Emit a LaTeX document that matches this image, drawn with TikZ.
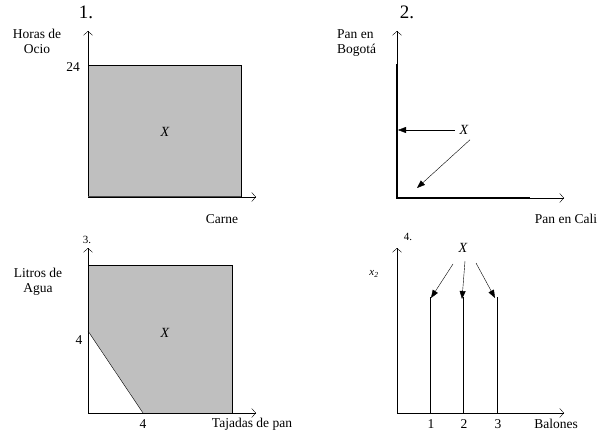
\documentclass[tikz,border=0pt]{standalone}
\usepackage{fontspec}
\setmainfont{Liberation Serif}
\usetikzlibrary{arrows.meta, positioning}

\tikzset{
  axis/.style={thin, -{Straight Barb[length=4pt,width=9pt]}},
  pointer/.style={thin, -{Triangle[length=8pt,width=6pt]}},
  lbl/.style={font=\fontsize{13.5}{15}\selectfont, inner sep=0pt, align=center},
  xlbl/.style={lbl, font=\itshape\fontsize{14}{15}\selectfont},
  bignum/.style={font=\fontsize{19}{19}\selectfont, inner sep=0pt},
  smallnum/.style={font=\fontsize{11}{11}\selectfont, inner sep=0pt},
  region/.style={fill=black!25, draw=black, thin}
}

\begin{document}
\begin{tikzpicture}[x=1pt, y=-1pt]
        \useasboundingbox (0,0) rectangle (600,436);

        % panel 1
        \coordinate (o1) at (88,197);
        \coordinate (y1) at (88,31);
        \coordinate (x1) at (256,197);
        \draw[region] (88,65) rectangle (241,197);
        \draw[axis] (o1) -- (y1);
        \draw[axis] (o1) -- (x1);
        \draw[black!70, line width=1pt] (88,196) -- (241,196);
        \node[bignum] (n1) at (86,12) {1.};
        \node[lbl] (ocio) at (37,41) {Horas de\\Ocio};
        \node[lbl] (t24) at (73,67) {24};
        \node[xlbl] (x1lbl) at (165,132) {X};
        \node[lbl] (carne) at (222,219) {Carne};

        % panel 2
        \coordinate (o2) at (397,198);
        \coordinate (y2) at (397,31);
        \coordinate (x2) at (564,198);
        \draw[axis] (o2) -- (y2);
        \draw[axis] (o2) -- (x2);
        \draw[line width=2.5pt] (397,64) -- (397,198) -- (530,198);
        \node[bignum] (n2) at (407,12) {2.};
        \node[lbl, align=left, anchor=west] (bogota) at (337,43) {Pan en\\Bogotá};
        \node[xlbl] (x2lbl) at (464,130) {X};
        \coordinate (hit1) at (398,130);
        \coordinate (hit2) at (417,188);
        \draw[pointer] (x2lbl.west) ++(-5,0) -- (hit1);
        \draw[pointer] (x2lbl.south) ++(6,5) -- (hit2);
        \node[lbl] (cali) at (566,219) {Pan en Cali};

        % panel 3
        \coordinate (o3) at (88,413);
        \coordinate (y3) at (88,248);
        \coordinate (x3) at (256,413);
        \coordinate (a3) at (88,331);
        \coordinate (b3) at (143,413);
        \fill[black!25] (a3) -- (88,265) -- (232,265) -- (232,413) -- (b3) -- cycle;
        \draw (88,265) -- (232,265) -- (232,413);
        \draw (a3) -- (b3);
        \draw[axis] (o3) -- (y3);
        \draw[axis] (o3) -- (x3);
        \node[smallnum] (n3) at (87,240) {3.};
        \node[lbl] (agua) at (38,282) {Litros de\\Agua};
        \node[lbl] (t4a) at (79,340) {4};
        \node[lbl] (t4b) at (143,424) {4};
        \node[xlbl] (x3lbl) at (165,333) {X};
        \node[lbl] (pan) at (252,424) {Tajadas de pan};

        % panel 4
        \coordinate (o4) at (397,413);
        \coordinate (y4) at (397,248);
        \coordinate (x4) at (564,413);
        \draw[axis] (o4) -- (y4);
        \draw[axis] (o4) -- (x4);
        \node[smallnum] (n4) at (408,237) {4.};
        \node[lbl, font=\itshape\fontsize{11}{11}\selectfont] (xtwo) at (374,274) {x\textsubscript{2}};
        \node[xlbl] (x4lbl) at (463,248) {X};
        \foreach \i/\xx in {1/430, 2/463, 3/497} {
          \coordinate (top\i) at (\xx,297);
          \draw (\xx,413) -- (top\i);
          \node[lbl] (b\i) at (\xx+1,424) {\i};
        }
        \draw[pointer] (453,264) -- (431,298);
        \draw[pointer] (465,261) -- (462,299);
        \draw[pointer] (476,263) -- (495,298);
        \node[lbl] (balones) at (556,424) {Balones};
\end{tikzpicture}
\end{document}
